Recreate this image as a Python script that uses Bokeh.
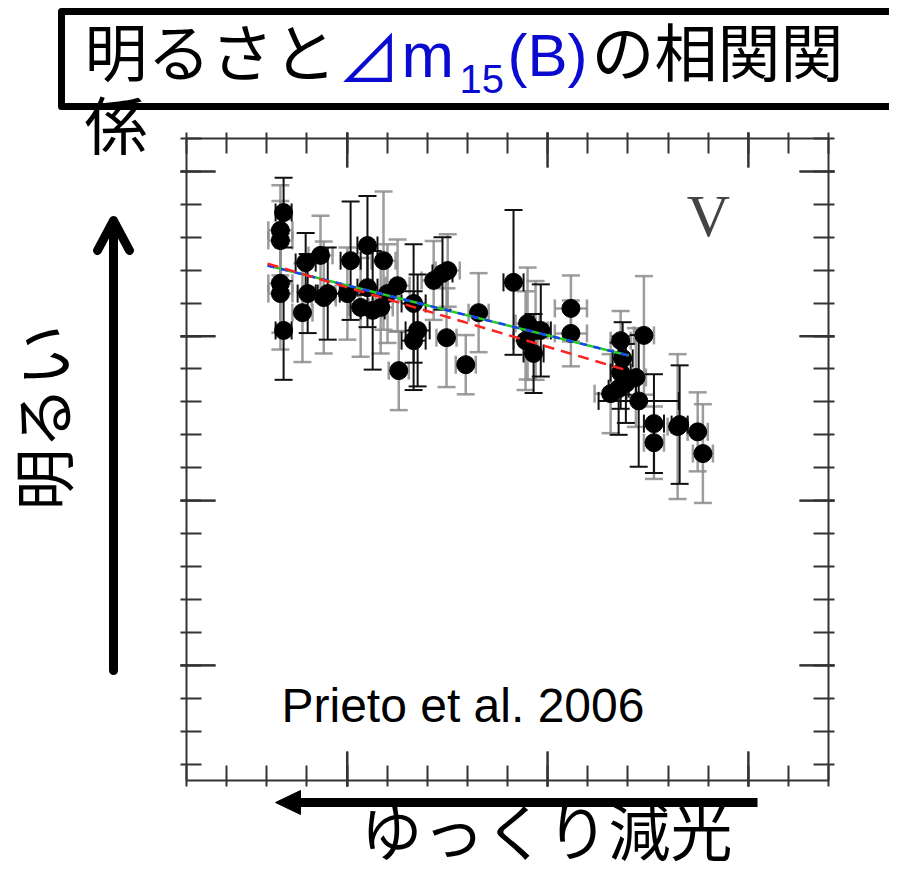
from math import pi
from bokeh.plotting import figure
from bokeh.models import (ColumnDataSource, Range1d, FixedTicker, LinearAxis, Whisker, TeeHead,
                          CustomLabelingPolicy)
from bokeh.core.properties import value
from bokeh.embed import file_html
from bokeh.resources import INLINE

# ---------------- data (Δm15(B) vs M_V, Prieto et al. 2006, V band) ----------------
dm15 = [0.842, 0.834, 0.834, 0.834, 0.834, 0.842, 0.897, 0.934, 0.889, 0.902,
        0.942, 0.952, 1.009, 1.051, 1.091, 1.001, 1.034, 1.064, 1.084, 1.101,
        1.051, 1.126, 1.129, 1.166, 1.176, 1.166, 1.216, 1.238, 1.248, 1.296,
        1.328, 1.251, 1.415, 1.450, 1.470, 1.465, 1.445, 1.483, 1.558, 1.558,
        1.682, 1.740, 1.687, 1.682, 1.720, 1.695, 1.657, 1.727, 1.677, 1.765,
        1.765, 1.824, 1.829, 1.874, 1.887]
mv = [-19.375, -19.321, -19.290, -19.160, -19.129, -19.017, -19.223, -19.245, -19.071, -19.129,
      -19.117, -19.129, -19.229, -19.275, -19.229, -19.129, -19.087, -19.078, -19.087, -19.129,
      -19.147, -19.153, -18.895, -19.099, -19.017, -18.986, -19.169, -19.190, -18.995, -18.913,
      -19.071, -19.199, -19.163, -19.038, -19.017, -18.947, -18.986, -19.017, -19.084, -19.008,
      -18.986, -19.002, -18.932, -18.889, -18.874, -18.856, -18.825, -18.803, -18.840, -18.734,
      -18.676, -18.725, -18.731, -18.709, -18.643]
dm15_err = [0.020, 0.030, 0.030, 0.030, 0.030, 0.020, 0.025, 0.030, 0.025, 0.025,
            0.030, 0.030, 0.025, 0.025, 0.030, 0.030, 0.030, 0.030, 0.030, 0.030,
            0.025, 0.030, 0.025, 0.030, 0.030, 0.030, 0.030, 0.025, 0.025, 0.025,
            0.025, 0.030, 0.025, 0.030, 0.030, 0.025, 0.030, 0.025, 0.040, 0.040,
            0.025, 0.025, 0.025, 0.025, 0.025, 0.025, 0.040, 0.100, 0.025, 0.025,
            0.025, 0.025, 0.020, 0.025, 0.025]
mv_err = [0.106, 0.137, 0.120, 0.150, 0.170, 0.150, 0.090, 0.120, 0.150, 0.120,
          0.170, 0.140, 0.180, 0.150, 0.210, 0.140, 0.150, 0.180, 0.140, 0.150,
          0.120, 0.140, 0.120, 0.180, 0.170, 0.150, 0.120, 0.110, 0.150, 0.090,
          0.120, 0.110, 0.220, 0.170, 0.150, 0.120, 0.150, 0.140, 0.100, 0.100,
          0.090, 0.180, 0.110, 0.110, 0.150, 0.120, 0.120, 0.200, 0.140, 0.150,
          0.110, 0.220, 0.180, 0.120, 0.150]
err_kind = ["k", "g", "g", "g", "g", "k", "k", "g", "g", "k",
            "g", "k", "k", "k", "g", "g", "g", "k", "g", "g",
            "k", "g", "g", "k", "k", "k", "g", "k", "g", "g",
            "g", "g", "k", "g", "g", "k", "g", "k", "g", "g",
            "g", "g", "k", "k", "g", "k", "g", "k", "k", "k",
            "g", "g", "k", "g", "g"]

fit_x = [0.802, 1.702]
fit_blue = [-19.214, -18.941]
fit_green = [-19.214, -18.941]
fit_red_x = [0.802, 1.700]
fit_red = [-19.220, -18.895]

x_lim = (0.6, 2.2)
y_lim = (-19.6, -17.65)
x_major = [1.0, 1.5, 2.0]
x_minor = [0.6, 0.7, 0.8, 0.9, 1.0, 1.1, 1.2, 1.3, 1.4, 1.5, 1.6, 1.7, 1.8, 1.9, 2.0, 2.1, 2.2]
y_major = [-19.5, -19.0, -18.5, -18.0]
y_minor = [-19.6, -19.5, -19.4, -19.3, -19.2, -19.1, -19.0, -18.9, -18.8, -18.7, -18.6,
           -18.5, -18.4, -18.3, -18.2, -18.1, -18.0, -17.9, -17.8, -17.7]

title_a = "明るさと"
title_delta = "⊿"
title_m = "m"
title_sub = "15"
title_b = "(B)"
title_c = "の相関関"
title_d = "係"
panel_tag = "V"
credit = "Prieto et al. 2006"
y_note = "明るい"
x_note = "ゆっくり減光"

# ---------------- layout (canvas pixels) ----------------
W, H = 889, 863
PX0, PX1 = 186, 828      # plot box left/right
PY0, PY1 = 138, 780      # plot box top/bottom
MAJ_IN, MIN_IN, T_OUT = 29, 15, 6

kx = (PX1 - PX0) / (x_lim[1] - x_lim[0])
ky = (PY1 - PY0) / (y_lim[1] - y_lim[0])
xr_data = Range1d(x_lim[0] - PX0 / kx, x_lim[1] + (W - PX1) / kx)
yr_data = Range1d(y_lim[1] + (H - PY1) / ky, y_lim[0] - PY0 / ky)

p = figure(width=W, height=H, title=None,
           x_range=Range1d(0, W), y_range=Range1d(H, 0),
           x_axis_location=None, y_axis_location=None,
           output_backend="svg", toolbar_location=None,
           min_border=0, min_border_left=0, min_border_right=0,
           min_border_top=0, min_border_bottom=0)
p.extra_x_ranges = {"dm": xr_data}
p.extra_y_ranges = {"mag": yr_data}
p.outline_line_color = None
p.background_fill_color = "white"
p.border_fill_color = "white"
p.grid.visible = False

AX = "#333333"
NO_LABELS = "for (const i of Array.from(indices.ones())) { indices.unset(i) }\nreturn indices"


def add_axis(side, majors, minors):
    ax = LinearAxis(x_range_name="dm", y_range_name="mag")
    ax.ticker = FixedTicker(ticks=majors, minor_ticks=minors)
    ax.major_label_policy = CustomLabelingPolicy(code=NO_LABELS)
    ax.major_tick_in = MAJ_IN
    ax.major_tick_out = T_OUT
    ax.minor_tick_in = MIN_IN
    ax.minor_tick_out = T_OUT
    for attr in ("axis_line", "major_tick_line", "minor_tick_line"):
        setattr(ax, attr + "_color", AX)
        setattr(ax, attr + "_width", 2)
    if side in ("below", "above"):
        ax.fixed_location = y_lim[1] if side == "below" else y_lim[0]
        ax.bounds = x_lim
    else:
        ax.fixed_location = x_lim[0] if side == "left" else x_lim[1]
        ax.bounds = (y_lim[0], y_lim[1])
    p.add_layout(ax, side)


for side in ("below", "above"):
    add_axis(side, x_major, x_minor)
for side in ("left", "right"):
    add_axis(side, y_major, y_minor)

# long major ticks (pixel lengths converted through the data scales)
nx, ny = len(x_major), len(y_major)
p.segment(x0=x_major, x1=x_major, y0=[y_lim[1] + T_OUT / ky] * nx, y1=[y_lim[1] - MAJ_IN / ky] * nx,
          line_color=AX, line_width=2, x_range_name="dm", y_range_name="mag")
p.segment(x0=x_major, x1=x_major, y0=[y_lim[0] - T_OUT / ky] * nx, y1=[y_lim[0] + MAJ_IN / ky] * nx,
          line_color=AX, line_width=2, x_range_name="dm", y_range_name="mag")
p.segment(y0=y_major, y1=y_major, x0=[x_lim[0] - T_OUT / kx] * ny, x1=[x_lim[0] + MAJ_IN / kx] * ny,
          line_color=AX, line_width=2, x_range_name="dm", y_range_name="mag")
p.segment(y0=y_major, y1=y_major, x0=[x_lim[1] + T_OUT / kx] * ny, x1=[x_lim[1] - MAJ_IN / kx] * ny,
          line_color=AX, line_width=2, x_range_name="dm", y_range_name="mag")

# error bars
for kind, col, lw, alpha in (("g", "#8c8c8c", 2.5, 0.85), ("k", "#111111", 2, 1.0)):
    idx = [i for i, k in enumerate(err_kind) if k == kind]
    src = ColumnDataSource(dict(
        x=[dm15[i] for i in idx], y=[mv[i] for i in idx],
        yu=[mv[i] + mv_err[i] for i in idx], yl=[mv[i] - mv_err[i] for i in idx],
        xu=[dm15[i] + dm15_err[i] for i in idx], xl=[dm15[i] - dm15_err[i] for i in idx]))
    for dim, base, up, lo in (("height", "x", "yu", "yl"), ("width", "y", "xu", "xl")):
        w = Whisker(source=src, base=base, upper=up, lower=lo, dimension=dim,
                    x_range_name="dm", y_range_name="mag",
                    line_color=col, line_width=lw, line_alpha=alpha,
                    upper_head=TeeHead(size=18, line_color=col, line_width=lw, line_alpha=alpha),
                    lower_head=TeeHead(size=18, line_color=col, line_width=lw, line_alpha=alpha))
        p.add_layout(w)

p.scatter(dm15, mv, size=18, color="black", x_range_name="dm", y_range_name="mag")

p.line(fit_x, fit_green, line_color="#22cc22", line_width=2.5, x_range_name="dm", y_range_name="mag")
p.line(fit_x, fit_blue, line_color="#1f3fff", line_width=2.5, line_dash="7 7",
       x_range_name="dm", y_range_name="mag")
p.line(fit_red_x, fit_red, line_color="#ff2020", line_width=2.5, line_dash="11 7",
       x_range_name="dm", y_range_name="mag")

# ---------------- decorations (canvas pixel coordinates) ----------------
JP = "Noto Sans CJK JP"
LAT = "Liberation Sans"
BLUE = "#0a0ad0"

p.quad(left=[61], right=[940], top=[11], bottom=[106], fill_alpha=0,
       line_color="black", line_width=7, line_join="round")


def txt(text, X, Y, size, font=JP, color="black", align="left", baseline="alphabetic", angle=0.0):
    p.text(x=[X], y=[Y], text=[text], text_font=value(font), text_font_size=value(size),
           text_color=color, text_align=align, text_baseline=baseline, angle=angle)


txt(title_a, 84, 48, "63px")
txt(title_delta, 337, 54, "63px", color=BLUE)
txt(title_m, 401, 54, "63px", font=LAT, color=BLUE)
txt(title_sub, 459, 78, "40px", font=LAT, color=BLUE)
txt(title_b, 507, 55, "60px", font=LAT, color=BLUE)
txt(title_c, 591, 48, "63px")
txt(title_d, 84, 121, "63px")

txt(panel_tag, 708, 215, "60px", font="Liberation Serif", color="#444444", align="center")
txt(credit, 281, 705, "48px", font=LAT)
txt(y_note, 40, 417, "62px", align="center", baseline="middle", angle=pi / 2)
txt(x_note, 546, 828, "62px", align="center")

# arrows
p.segment(x0=[113], y0=[670], x1=[113], y1=[224], line_width=9, line_color="black", line_cap="round")
p.multi_line(xs=[[97, 113, 129]], ys=[[250, 220, 250]], line_width=9, line_color="black",
             line_cap="round", line_join="round")
p.segment(x0=[757], y0=[802], x1=[296], y1=[802], line_width=9, line_color="black")
p.patch(x=[275, 300, 300], y=[802, 790, 814], color="black")

open("out.html", "w").write(file_html(p, INLINE))
